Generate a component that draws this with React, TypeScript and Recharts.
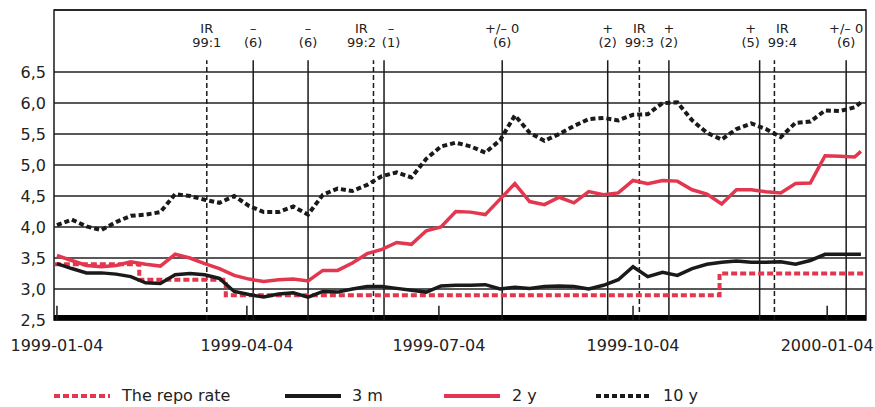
import { LineChart, Line, XAxis, YAxis, CartesianGrid, ReferenceLine, ReferenceArea } from 'recharts';

const FONT = '"DejaVu Sans", sans-serif';
const RED = '#e3364f';
const INK = '#1a1a1a';
const DAY = 86400000;

// weekly observations
const weeks = [
  '1999-01-04', '1999-01-11', '1999-01-18', '1999-01-25', '1999-02-01', '1999-02-08', '1999-02-15', '1999-02-22',
  '1999-03-01', '1999-03-08', '1999-03-15', '1999-03-22', '1999-03-29', '1999-04-05', '1999-04-12', '1999-04-19',
  '1999-04-26', '1999-05-03', '1999-05-10', '1999-05-17', '1999-05-24', '1999-05-31', '1999-06-07', '1999-06-14',
  '1999-06-21', '1999-06-28', '1999-07-05', '1999-07-12', '1999-07-19', '1999-07-26', '1999-08-02', '1999-08-09',
  '1999-08-16', '1999-08-23', '1999-08-30', '1999-09-06', '1999-09-13', '1999-09-20', '1999-09-27', '1999-10-04',
  '1999-10-11', '1999-10-18', '1999-10-25', '1999-11-01', '1999-11-08', '1999-11-15', '1999-11-22', '1999-11-29',
  '1999-12-06', '1999-12-13', '1999-12-20', '1999-12-27', '2000-01-03', '2000-01-10', '2000-01-17', '2000-01-20',
];

const rate3m = [
  3.41, 3.33, 3.26, 3.26, 3.24, 3.20, 3.10, 3.09, 3.23, 3.25, 3.23, 3.17, 2.96, 2.91, 2.87, 2.92,
  2.94, 2.87, 2.96, 2.95, 3.00, 3.04, 3.04, 3.01, 2.98, 2.95, 3.05, 3.06, 3.06, 3.07, 3.00, 3.03,
  3.01, 3.04, 3.05, 3.04, 3.00, 3.06, 3.15, 3.36, 3.20, 3.27, 3.22, 3.33, 3.40, 3.43, 3.45, 3.43,
  3.43, 3.44, 3.40, 3.46, 3.56, 3.56, 3.56, 3.56,
];

const rate2y = [
  3.54, 3.46, 3.38, 3.36, 3.38, 3.44, 3.40, 3.37, 3.56, 3.50, 3.41, 3.33, 3.22, 3.16, 3.12, 3.15,
  3.16, 3.13, 3.30, 3.30, 3.42, 3.57, 3.64, 3.75, 3.72, 3.94, 4.00, 4.25, 4.24, 4.20, 4.45, 4.70,
  4.41, 4.36, 4.48, 4.39, 4.57, 4.52, 4.55, 4.75, 4.70, 4.75, 4.74, 4.60, 4.53, 4.37, 4.60, 4.60,
  4.57, 4.55, 4.70, 4.71, 5.15, 5.14, 5.13, 5.22,
];

const rate10y = [
  4.03, 4.12, 4.01, 3.95, 4.08, 4.18, 4.20, 4.24, 4.53, 4.50, 4.44, 4.39, 4.50, 4.34, 4.24, 4.24,
  4.33, 4.20, 4.52, 4.62, 4.58, 4.68, 4.82, 4.88, 4.80, 5.10, 5.30, 5.36, 5.30, 5.20, 5.40, 5.80,
  5.52, 5.39, 5.50, 5.63, 5.74, 5.76, 5.72, 5.81, 5.82, 6.00, 6.01, 5.72, 5.52, 5.41, 5.58, 5.67,
  5.58, 5.45, 5.68, 5.70, 5.88, 5.87, 5.93, 6.01,
];

// repo rate changes (step line)
const repoDates = ['1999-01-03', '1999-02-12', '1999-03-25', '1999-11-14', '2000-01-22'];
const repoValues = [3.40, 3.15, 2.90, 3.25, 3.25];

// decision / inflation report markers along the top
const eventDates = [
  '1999-03-16', '1999-04-07', '1999-05-03', '1999-06-03', '1999-06-08', '1999-08-03',
  '1999-09-22', '1999-10-07', '1999-10-21', '1999-12-03', '1999-12-10', '2000-01-13',
];
const eventTop = ['IR', '–', '–', 'IR', '–', '+/– 0', '+', 'IR', '+', '+', 'IR', '+/– 0'];
const eventBottom = ['99:1', '(6)', '(6)', '99:2', '(1)', '(6)', '(2)', '99:3', '(2)', '(5)', '99:4', '(6)'];
const eventIsReport = [true, false, false, true, false, false, false, true, false, false, true, false];
const eventShift = [0, 0, 0, -12, 7, 0, 0, 0, 0, -9, 8, 0];

const xTicks = ['1999-01-04', '1999-04-04', '1999-07-04', '1999-10-04', '2000-01-04'];
const yTicks = [2.5, 3.0, 3.5, 4.0, 4.5, 5.0, 5.5, 6.0, 6.5];

const t = (d: string) => Date.parse(d);
const rows = weeks.map((d, i) => ({ t: t(d), m3: rate3m[i], y2: rate2y[i], y10: rate10y[i] }));
const repoRows = repoDates.map((d, i) => ({ t: t(d), repo: repoValues[i] }));

const x0 = t('1999-01-04') - 1.4 * DAY;
const x1 = t('1999-01-04') + 383.4 * DAY;

const fmtDate = (v: number) => new Date(v).toISOString().slice(0, 10);
const fmtY = (v: number) => v.toFixed(1).replace('.', ',');

function EventLabel(top: string, bottom: string, shift: number) {
  return (props: any) => {
    const vb = props.viewBox || {};
    const cx = (vb.x ?? 0) + (vb.width ?? 0) / 2 + shift;
    const ty = vb.y ?? 0;
    return (
      <g>
        <text x={cx} y={ty - 27} textAnchor="middle" fontSize={13} fontFamily={FONT} fill="#222">{top}</text>
        <text x={cx} y={ty - 13} textAnchor="middle" fontSize={13} fontFamily={FONT} fill="#222">{bottom}</text>
      </g>
    );
  };
}

const legendItems = [
  { label: 'The repo rate', color: RED, dash: '6 3', x: 54, tx: 122 },
  { label: '3 m', color: INK, dash: undefined, x: 285, tx: 352 },
  { label: '2 y', color: RED, dash: undefined, x: 444, tx: 512 },
  { label: '10 y', color: INK, dash: '5 3', x: 596, tx: 663 },
];

export default function App() {
  return (
    <div style={{ position: 'absolute', left: 0, top: 0, width: 875, height: 407, background: '#fff', fontFamily: FONT }}>
      <LineChart width={875} height={360} data={rows} margin={{ top: 10, right: 9, bottom: 10, left: 0 }}>
        <CartesianGrid vertical={false} stroke="#222" strokeWidth={1.5} />
        <XAxis
          type="number"
          dataKey="t"
          domain={[x0, x1]}
          allowDataOverflow
          ticks={xTicks.map(t)}
          interval={0}
          tickFormatter={fmtDate}
          tickLine={false}
          axisLine={false}
          tickSize={0}
          tickMargin={20}
          height={30}
          tick={{ fontSize: 16, fill: '#222', fontFamily: FONT }}
        />
        <YAxis
          type="number"
          domain={[2.5, 7.5]}
          allowDataOverflow
          ticks={yTicks}
          interval={0}
          tickFormatter={fmtY}
          tickLine={false}
          axisLine={false}
          tickSize={0}
          tickMargin={8}
          width={54}
          tick={{ fontSize: 16, fill: '#222', fontFamily: FONT }}
        />
        <ReferenceArea x1={x0} x2={x1} y1={2.5} y2={7.5} fill="none" stroke={INK} strokeWidth={1.5} />
        <ReferenceArea x1={x0} x2={x1} y1={2.5} y2={2.58} fill="#000" fillOpacity={1} stroke="none" />
        {xTicks.map((d) => (
          <ReferenceLine key={'tk' + d} segment={[{ x: t(d), y: 2.5 }, { x: t(d), y: 2.73 }]} stroke={INK} strokeWidth={1.5} />
        ))}
        {eventDates.map((d, i) => (
          <ReferenceLine
            key={'ev' + d}
            segment={[{ x: t(d), y: 2.5 }, { x: t(d), y: 6.69 }]}
            stroke={INK}
            strokeWidth={1.5}
            strokeDasharray={eventIsReport[i] ? '5 3' : undefined}
            label={EventLabel(eventTop[i], eventBottom[i], eventShift[i])}
          />
        ))}
        <Line
          data={repoRows}
          dataKey="repo"
          type="stepAfter"
          stroke={RED}
          strokeWidth={4}
          strokeDasharray="6 3"
          dot={false}
          activeDot={false}
          isAnimationActive={false}
        />
        <Line dataKey="y10" type="linear" stroke={INK} strokeWidth={4} strokeDasharray="5 3" dot={false} activeDot={false} isAnimationActive={false} />
        <Line dataKey="y2" type="linear" stroke={RED} strokeWidth={3.5} dot={false} activeDot={false} isAnimationActive={false} />
        <Line dataKey="m3" type="linear" stroke={INK} strokeWidth={3.5} dot={false} activeDot={false} isAnimationActive={false} />
      </LineChart>
      <svg width={875} height={40} style={{ position: 'absolute', left: 0, top: 376 }}>
        {legendItems.map((it) => (
          <g key={it.label}>
            <line x1={it.x} x2={it.x + 56} y1={20} y2={20} stroke={it.color} strokeWidth={4} strokeDasharray={it.dash} />
            <text x={it.tx} y={25} fontSize={16} fontFamily={FONT} fill="#222">{it.label}</text>
          </g>
        ))}
      </svg>
    </div>
  );
}
